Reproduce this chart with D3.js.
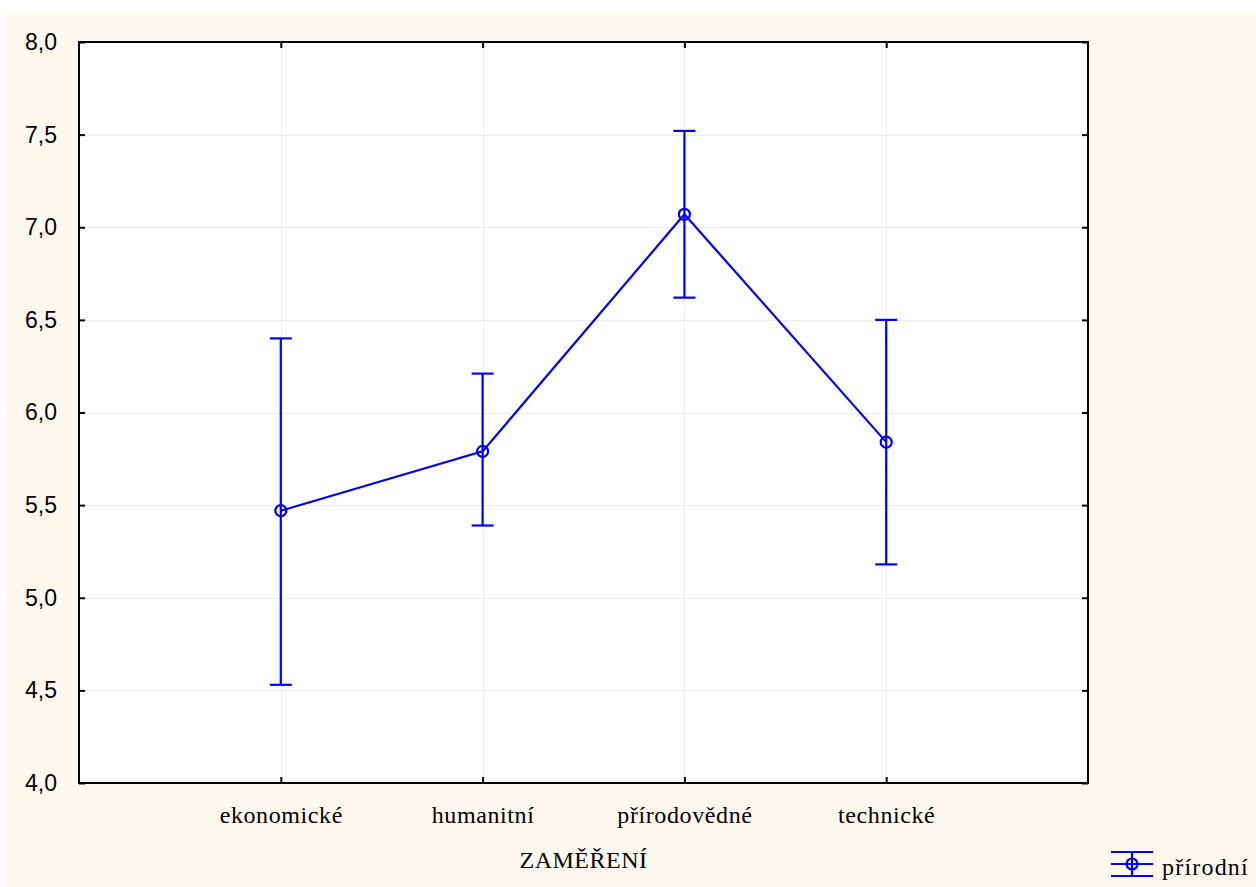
<!DOCTYPE html>
<html>
<head>
<meta charset="utf-8">
<script src="https://cdn.jsdelivr.net/npm/d3@7"></script>
<style>
  html, body { margin: 0; padding: 0; background: #ffffff; }
  svg { display: block; }
</style>
</head>
<body>
<script>
// Means and confidence limits by field of study
const categories = ["ekonomické", "humanitní", "přírodovědné", "technické"];
const means = [5.47, 5.79, 7.07, 5.84];
const lower = [4.53, 5.39, 6.62, 5.18];
const upper = [6.40, 6.21, 7.52, 6.50];
const yTicks = [4.0, 4.5, 5.0, 5.5, 6.0, 6.5, 7.0, 7.5, 8.0];
const seriesName = "přírodní";
const xTitle = "ZAMĚŘENÍ";

const W = 1256, H = 887;
const plot = { left: 79, top: 42, right: 1088, bottom: 783 };
const blue = "#0000ff";

const svg = d3.select("body").append("svg")
  .attr("width", W).attr("height", H);

// cream panel behind the chart
svg.append("rect")
  .attr("x", 7).attr("y", 12)
  .attr("width", W - 7).attr("height", 875)
  .attr("fill", "#fef9ef");

const x = d3.scalePoint()
  .domain(categories)
  .range([plot.left, plot.right])
  .padding(1);

const y = d3.scaleLinear()
  .domain([4, 8])
  .range([plot.bottom, plot.top]);

// white plotting area
svg.append("rect")
  .attr("x", plot.left).attr("y", plot.top)
  .attr("width", plot.right - plot.left).attr("height", plot.bottom - plot.top)
  .attr("fill", "#ffffff");

// grid lines
const grid = svg.append("g").attr("stroke", "#ececec").attr("stroke-width", 1);
grid.selectAll("line.h").data(yTicks.slice(1, -1)).join("line")
  .attr("x1", plot.left).attr("x2", plot.right)
  .attr("y1", d => Math.round(y(d)) + 0.5).attr("y2", d => Math.round(y(d)) + 0.5);
grid.selectAll("line.v").data(categories).join("line")
  .attr("x1", d => Math.round(x(d)) + 0.5).attr("x2", d => Math.round(x(d)) + 0.5)
  .attr("y1", plot.top).attr("y2", plot.bottom);

const fmt = d => d3.format(".1f")(d).replace(".", ",");

// axes with inward ticks on all four sides
const axisStyle = g => {
  g.select(".domain").remove();
  g.selectAll(".tick line").attr("stroke", "#000").attr("stroke-width", 2);
};

svg.append("g")
  .attr("transform", `translate(${plot.left},0)`)
  .call(d3.axisLeft(y).tickValues(yTicks).tickFormat(fmt).tickSize(-6).tickPadding(22))
  .call(axisStyle)
  .call(g => g.selectAll(".tick text")
    .attr("font-family", "'Liberation Sans', Arial, sans-serif")
    .attr("font-size", 23).attr("fill", "#000"));

svg.append("g")
  .attr("transform", `translate(${plot.right},0)`)
  .call(d3.axisRight(y).tickValues(yTicks).tickSize(-6).tickFormat(""))
  .call(axisStyle);

svg.append("g")
  .attr("transform", `translate(0,${plot.bottom})`)
  .call(d3.axisBottom(x).tickSize(-6).tickPadding(23))
  .call(axisStyle)
  .call(g => g.selectAll(".tick text")
    .attr("font-family", "'Liberation Serif', 'Times New Roman', serif")
    .attr("font-size", 24).attr("letter-spacing", 0.6).attr("fill", "#000"));

svg.append("g")
  .attr("transform", `translate(0,${plot.top})`)
  .call(d3.axisTop(x).tickSize(-6).tickFormat(""))
  .call(axisStyle);

// frame
svg.append("rect")
  .attr("x", plot.left).attr("y", plot.top)
  .attr("width", plot.right - plot.left).attr("height", plot.bottom - plot.top)
  .attr("fill", "none").attr("stroke", "#000").attr("stroke-width", 2);

// x axis title
svg.append("text")
  .attr("x", (plot.left + plot.right) / 2).attr("y", 868)
  .attr("text-anchor", "middle")
  .attr("font-family", "'Liberation Serif', 'Times New Roman', serif")
  .attr("font-size", 24).attr("letter-spacing", 0.5)
  .text(xTitle);

const data = categories.map((c, i) => ({ c, m: means[i], lo: lower[i], hi: upper[i] }));
const cap = 11;
const series = svg.append("g").attr("stroke", blue).attr("stroke-width", 2.2).attr("fill", "none");

// error bars
series.selectAll("line.whisker").data(data).join("line")
  .attr("x1", d => x(d.c)).attr("x2", d => x(d.c))
  .attr("y1", d => y(d.hi)).attr("y2", d => y(d.lo));
series.selectAll("line.capHi").data(data).join("line")
  .attr("x1", d => x(d.c) - cap).attr("x2", d => x(d.c) + cap)
  .attr("y1", d => y(d.hi)).attr("y2", d => y(d.hi));
series.selectAll("line.capLo").data(data).join("line")
  .attr("x1", d => x(d.c) - cap).attr("x2", d => x(d.c) + cap)
  .attr("y1", d => y(d.lo)).attr("y2", d => y(d.lo));

// line joining the means
series.append("path")
  .datum(data)
  .attr("d", d3.line().x(d => x(d.c)).y(d => y(d.m)));

// open circle markers
series.selectAll("circle").data(data).join("circle")
  .attr("cx", d => x(d.c)).attr("cy", d => y(d.m)).attr("r", 5.5);

// legend
const lg = svg.append("g").attr("transform", "translate(1132,864)");
const lgs = lg.append("g").attr("stroke", blue).attr("stroke-width", 2.2).attr("fill", "none");
[-12, 0, 12].forEach(dy => lgs.append("line").attr("x1", -21).attr("x2", 21).attr("y1", dy).attr("y2", dy));
lgs.append("line").attr("x1", 0).attr("x2", 0).attr("y1", -12).attr("y2", 12);
lgs.append("circle").attr("r", 5.5);
lg.append("text")
  .attr("x", 30).attr("y", 11)
  .attr("font-family", "'Liberation Serif', 'Times New Roman', serif")
  .attr("font-size", 24).attr("letter-spacing", 1.2)
  .text(seriesName);
</script>
</body>
</html>
